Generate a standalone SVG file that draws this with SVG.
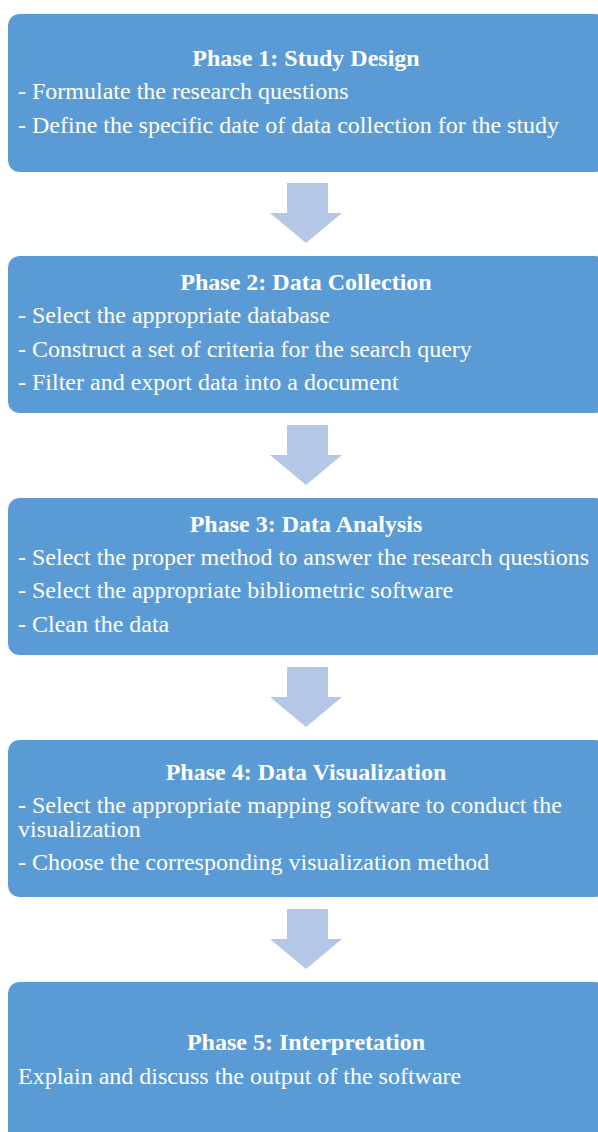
<svg xmlns="http://www.w3.org/2000/svg" width="598" height="1132" viewBox="0 0 598 1132">
<style>
.box{fill:#5B9BD5;stroke:#FFFFFF;stroke-width:1}
.arrow{fill:#B4C7E7}
.t{font-family:"Liberation Serif","Times New Roman",serif;font-size:24px;fill:#FFFFFF}
.h{font-weight:bold;text-anchor:middle}
</style>
<rect width="598" height="1132" fill="#FFFFFF"/>
<g id="connectors">
<path class="arrow" d="M287,183 H328 V213 H342 L306,243 L270,213 H287 Z"/>
<path class="arrow" d="M287,425 H328 V455 H342 L306,485 L270,455 H287 Z"/>
<path class="arrow" d="M287,667 H328 V697 H342 L306,727 L270,697 H287 Z"/>
<path class="arrow" d="M287,909 H328 V939 H342 L306,969 L270,939 H287 Z"/>
</g>
<g id="phase1">
<rect class="box" x="7.5" y="13.5" width="600" height="159" rx="12"/>
<text class="t h" x="306" y="66">Phase 1: Study Design</text>
<text class="t" x="18" y="99">- Formulate the research questions</text>
<text class="t" x="18" y="133">- Define the specific date of data collection for the study</text>
</g>
<g id="phase2">
<rect class="box" x="7.5" y="255.5" width="600" height="158" rx="12"/>
<text class="t h" x="306" y="290">Phase 2: Data Collection</text>
<text class="t" x="18" y="323">- Select the appropriate database</text>
<text class="t" x="18" y="357">- Construct a set of criteria for the search query</text>
<text class="t" x="18" y="390">- Filter and export data into a document</text>
</g>
<g id="phase3">
<rect class="box" x="7.5" y="497.5" width="600" height="158" rx="12"/>
<text class="t h" x="306" y="532">Phase 3: Data Analysis</text>
<text class="t" x="18" y="565">- Select the proper method to answer the research questions</text>
<text class="t" x="18" y="598">- Select the appropriate bibliometric software</text>
<text class="t" x="18" y="632">- Clean the data</text>
</g>
<g id="phase4">
<rect class="box" x="7.5" y="739.5" width="600" height="158" rx="12"/>
<text class="t h" x="306" y="780">Phase 4: Data Visualization</text>
<text class="t" x="18" y="813"><tspan font-weight="bold">-</tspan> Select the appropriate mapping software to conduct the</text>
<text class="t" x="18" y="837">visualization</text>
<text class="t" x="18" y="870">- Choose the corresponding visualization method</text>
</g>
<g id="phase5">
<rect class="box" x="7.5" y="981.5" width="600" height="170" rx="12"/>
<text class="t h" x="306" y="1050">Phase 5: Interpretation</text>
<text class="t" x="18" y="1084">Explain and discuss the output of the software</text>
</g>
</svg>
